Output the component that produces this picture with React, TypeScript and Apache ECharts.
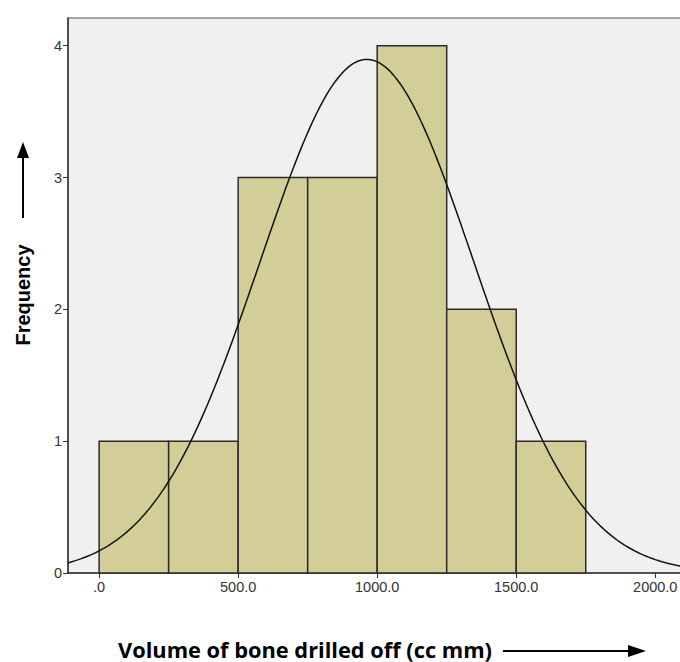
import React, { useEffect, useRef } from "react";
import * as echarts from "echarts";

// Histogram bins (lower edge, upper edge) and frequencies
const binStarts = [0, 250, 500, 750, 1000, 1250, 1500];
const binEnds = [250, 500, 750, 1000, 1250, 1500, 1750];
const frequencies = [1, 1, 3, 3, 4, 2, 1];

// Normal curve parameters
const curveMean = 963;
const curveSd = 384;
const sampleN = 15;
const binWidth = 250;

const xTicks = [0, 500, 1000, 1500, 2000];
const yTicks = [0, 1, 2, 3, 4];

const xTitle = "Volume of bone drilled off (cc mm)";
const yTitle = "Frequency";

export default function App() {
  const ref = useRef<HTMLDivElement>(null);
  useEffect(() => {
    if (!ref.current) return;
    const chart = echarts.init(ref.current, undefined, { renderer: "svg" });

    const histData = binStarts.map((s, i) => [s, binEnds[i], frequencies[i]]);
    const curve: number[][] = [];
    for (let x = -112; x <= 2125; x += 8) {
      const z = (x - curveMean) / curveSd;
      const y = (sampleN * binWidth) / (curveSd * Math.sqrt(2 * Math.PI)) * Math.exp(-0.5 * z * z);
      curve.push([x, y]);
    }

    chart.setOption({
      animation: false,
      grid: {
        left: 68,
        top: 18,
        right: 10,
        bottom: 89,
        show: true,
        backgroundColor: "#f0f0f0",
        borderColor: "#8a8a8a",
        borderWidth: 1.5,
      },
      xAxis: {
        type: "value",
        min: -112,
        max: 2125,
        splitLine: { show: false },
        axisLine: { show: true, onZero: false, lineStyle: { color: "#333", width: 1.5 } },
        axisTick: { show: true, customValues: xTicks, length: 5, lineStyle: { color: "#333" } },
        axisLabel: {
          customValues: xTicks,
          formatter: (v: number) => (v === 0 ? ".0" : v.toFixed(1)),
          color: "#333",
          fontFamily: "Liberation Sans",
          fontSize: 14.5,
          margin: 6,
        },
      },
      yAxis: {
        type: "value",
        min: 0,
        max: 4.21,
        splitLine: { show: false },
        axisLine: { show: true, onZero: false, lineStyle: { color: "#333", width: 1.5 } },
        axisTick: { show: true, customValues: yTicks, length: 5, lineStyle: { color: "#333" } },
        axisLabel: {
          customValues: yTicks,
          color: "#333",
          fontFamily: "Liberation Sans",
          fontSize: 14.5,
          margin: 6,
        },
      },
      series: [
        {
          type: "custom",
          data: histData,
          encode: { x: [0, 1], y: 2 },
          renderItem: (params: any, api: any) => {
            const p0 = api.coord([api.value(0), 0]);
            const p1 = api.coord([api.value(1), api.value(2)]);
            return {
              type: "rect",
              shape: { x: p0[0], y: p1[1], width: p1[0] - p0[0], height: p0[1] - p1[1] },
              style: { fill: "#d3ce97", stroke: "#2b2b2b", lineWidth: 1.5 },
            };
          },
          z: 2,
        },
        {
          type: "line",
          data: curve,
          showSymbol: false,
          symbol: "none",
          smooth: false,
          lineStyle: { color: "#111", width: 1.5 },
          z: 3,
        },
      ],
      graphic: [
        {
          type: "text",
          x: 118,
          y: 649,
          style: {
            text: xTitle,
            fontFamily: "Open Sans",
            fontWeight: "bold",
            fontSize: 21.8,
            fill: "#000",
            align: "left",
            verticalAlign: "middle",
          },
        },
        {
          type: "text",
          x: 23,
          y: 295,
          rotation: Math.PI / 2,
          style: {
            text: yTitle,
            fontFamily: "Liberation Sans",
            fontWeight: "bold",
            fontSize: 20,
            fill: "#000",
            align: "center",
            verticalAlign: "middle",
          },
        },
        { type: "line", shape: { x1: 503, y1: 651, x2: 630, y2: 651 }, style: { stroke: "#000", lineWidth: 2 } },
        { type: "polygon", shape: { points: [[628, 645], [628, 657], [646, 651]] }, style: { fill: "#000" } },
        { type: "line", shape: { x1: 23, y1: 218, x2: 23, y2: 155 }, style: { stroke: "#000", lineWidth: 2 } },
        { type: "polygon", shape: { points: [[17, 158], [29, 158], [23, 142]] }, style: { fill: "#000" } },
      ],
    });
    return () => chart.dispose();
  }, []);
  return (
    <div style={{ position: "absolute", left: 0, top: 0, width: 680, height: 662, overflow: "hidden", background: "#fff" }}>
      <div ref={ref} style={{ width: 700, height: 662 }} />
    </div>
  );
}
